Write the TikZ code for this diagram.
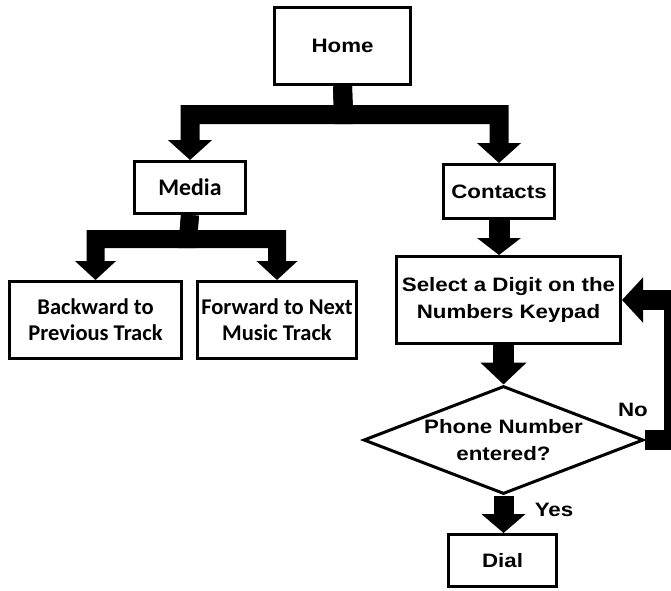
\documentclass[tikz,border=0pt]{standalone}
\usepackage{fontspec}
\setmainfont{Liberation Sans}[FakeStretch=1.15]
\newfontfamily\calfont{Carlito}
\usetikzlibrary{arrows.meta,shapes.geometric}
\begin{document}
\begin{tikzpicture}[x=1pt,y=-1pt,
  box/.style={draw, line width=3pt, inner sep=0pt, align=center,
    font=\bfseries\fontsize{19.4}{27}\selectfont},
  cbox/.style={box, font=\calfont\bfseries\fontsize{22.5}{26}\selectfont},
  fat/.style={line width=19pt, -{Triangle[width=43pt,length=20pt]}},
  lbl/.style={font=\bfseries\fontsize{19.4}{22}\selectfont}]
\useasboundingbox[fill=white] (0,0) rectangle (671,590);

\node[box, minimum width=136, minimum height=77] (home) at (342.5,46) {Home};
\node[cbox, minimum width=111, minimum height=52, font=\calfont\bfseries\fontsize{23.8}{26}\selectfont] (media) at (190,187.5) {Media};
\node[box, minimum width=111, minimum height=54] (contacts) at (499,191.5) {Contacts};
\node[cbox, minimum width=172, minimum height=77] (back) at (95.5,320) {Backward to\\Previous Track};
\node[cbox, minimum width=159, minimum height=77] (fwd) at (277,320) {Forward to Next\\Music Track};
\node[box, minimum width=224, minimum height=87] (select) at (508.5,300) {Select a Digit on the\\Numbers Keypad};
\node[box, diamond, aspect=2.55, inner sep=1pt, minimum width=280, minimum height=108] (dia) at (503.5,440) {Phone Number\\entered?};
\node[box, minimum width=108, minimum height=52] (dial) at (502.5,560.5) {Dial};

\node[lbl] (yes) at (554,510) {Yes};
\node[lbl] (no) at (633,410) {No};

\coordinate (hb) at (343.5,114.5);
\coordinate (mb) at (188,239);
\coordinate (lp) at (674,440);

\draw[fat] (home.south) -- (hb) -| (media.north);
\draw[fat] (home.south) -- (hb) -| (contacts.north);
\draw[fat, line width=18pt, -{Triangle[width=40pt,length=19pt]}] (media.south) -- (mb) -| (back.north);
\draw[fat, line width=18pt, -{Triangle[width=40pt,length=19pt]}] (media.south) -- (mb) -| (fwd.north);
\draw[fat, line width=21pt, -{Triangle[width=43pt,length=17pt]}] (contacts.south) -- (contacts.south |- select.north);
\draw[fat, line width=21pt, -{Triangle[width=45pt,length=22pt]}] (dia.north |- select.south) -- (dia.north);
\draw[fat, line width=20pt, -{Triangle[width=43pt,length=19pt]}] (dia.south) -- (dia.south |- dial.north);
\draw[fat, line width=20pt, -{Triangle[width=44pt,length=21pt]}] (dia.east) -- (lp) |- (select.east);
\end{tikzpicture}
\end{document}
